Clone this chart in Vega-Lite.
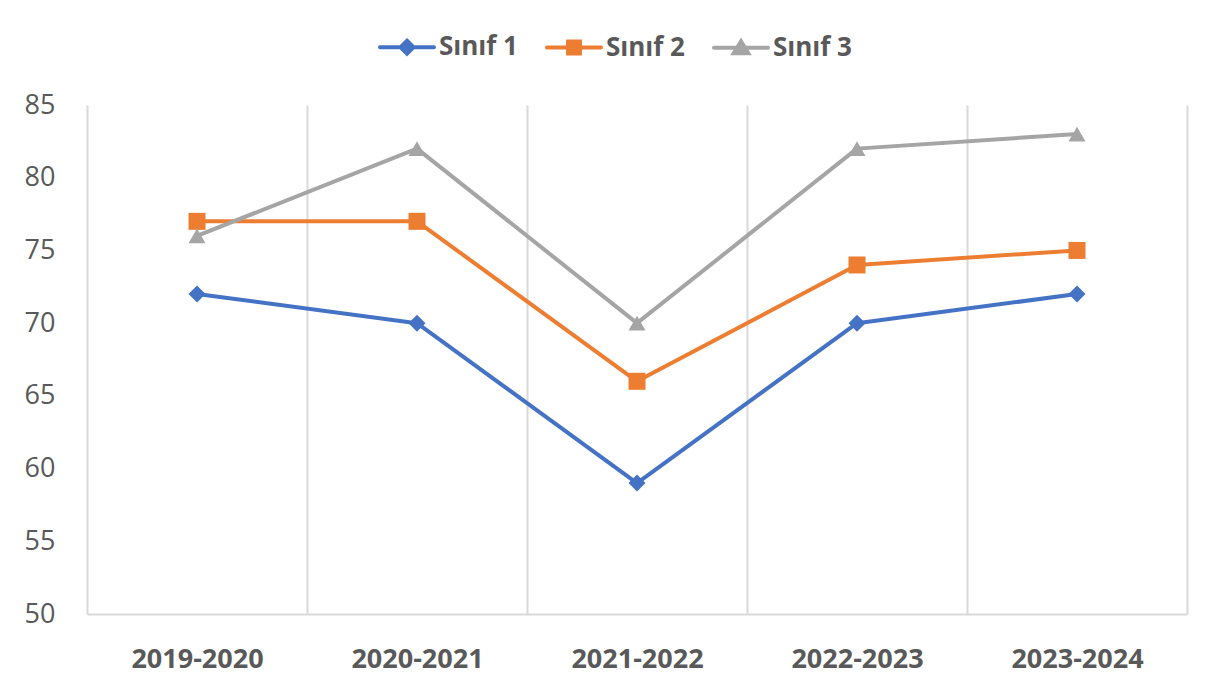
{
  "$schema": "https://vega.github.io/schema/vega-lite/v6.json",
  "width": 1100,
  "height": 509,
  "autosize": {"type": "none"},
  "padding": {"left": 87, "top": 105, "right": 26, "bottom": 78},
  "background": "white",
  "config": {
    "view": {"stroke": null},
    "font": "Open Sans"
  },
  "data": {
    "values": [
      {"year": "2019-2020", "series": "Sınıf 1", "value": 72},
      {"year": "2020-2021", "series": "Sınıf 1", "value": 70},
      {"year": "2021-2022", "series": "Sınıf 1", "value": 59},
      {"year": "2022-2023", "series": "Sınıf 1", "value": 70},
      {"year": "2023-2024", "series": "Sınıf 1", "value": 72},
      {"year": "2019-2020", "series": "Sınıf 2", "value": 77},
      {"year": "2020-2021", "series": "Sınıf 2", "value": 77},
      {"year": "2021-2022", "series": "Sınıf 2", "value": 66},
      {"year": "2022-2023", "series": "Sınıf 2", "value": 74},
      {"year": "2023-2024", "series": "Sınıf 2", "value": 75},
      {"year": "2019-2020", "series": "Sınıf 3", "value": 76},
      {"year": "2020-2021", "series": "Sınıf 3", "value": 82},
      {"year": "2021-2022", "series": "Sınıf 3", "value": 70},
      {"year": "2022-2023", "series": "Sınıf 3", "value": 82},
      {"year": "2023-2024", "series": "Sınıf 3", "value": 83}
    ]
  },
  "encoding": {
    "x": {
      "field": "year",
      "type": "nominal",
      "sort": null,
      "scale": {"type": "band", "paddingInner": 0, "paddingOuter": 0},
      "axis": {
        "title": null,
        "labelAngle": 0,
        "tickBand": "extent",
        "grid": true,
        "gridColor": "#D9D9D9",
        "gridWidth": 2,
        "ticks": false,
        "tickSize": 0,
        "domain": true,
        "domainColor": "#D9D9D9",
        "domainWidth": 2,
        "labelFontSize": 27,
        "labelFontWeight": "bold",
        "labelColor": "#595959",
        "labelBaseline": "middle",
        "labelPadding": 45
      }
    },
    "y": {
      "field": "value",
      "type": "quantitative",
      "scale": {"domain": [50, 85], "nice": false, "zero": false},
      "axis": {
        "title": null,
        "values": [50, 55, 60, 65, 70, 75, 80, 85],
        "grid": false,
        "domain": false,
        "ticks": false,
        "tickSize": 0,
        "labelFontSize": 27,
        "labelColor": "#595959",
        "labelPadding": 32
      }
    },
    "color": {
      "field": "series",
      "type": "nominal",
      "scale": {"domain": ["Sınıf 1", "Sınıf 2", "Sınıf 3"], "range": ["#4472C4", "#ED7D31", "#A5A5A5"]},
      "legend": {
        "title": null,
        "orient": "none",
        "direction": "horizontal",
        "legendX": 291,
        "legendY": -87,
        "padding": 0,
        "symbolSize": 2916,
        "labelFontSize": 26,
        "labelFontWeight": "bold",
        "labelColor": "#595959",
        "labelOffset": 3,
        "columnPadding": 21,
        "encode": {
          "symbols": {
            "update": {
              "shape": {"signal": "datum.value === 'Sınıf 1' ? 'M-1,0L1,0M0,-0.24L0.24,0L0,0.24L-0.24,0Z' : datum.value === 'Sınıf 2' ? 'M-1,0L1,0M-0.22,-0.22L0.22,-0.22L0.22,0.22L-0.22,0.22Z' : 'M-1,0L1,0M0,-0.24L0.27,0.2L-0.27,0.2Z'"},
              "fill": {"signal": "scale('color', datum.value)"},
              "stroke": {"signal": "scale('color', datum.value)"},
              "strokeWidth": {"value": 4},
              "strokeCap": {"value": "round"},
              "strokeJoin": {"value": "miter"},
              "opacity": {"value": 1},
              "fillOpacity": {"value": 1}
            }
          }
        }
      }
    }
  },
  "layer": [
    {
      "mark": {"type": "line", "strokeWidth": 4, "strokeCap": "round", "strokeJoin": "round"}
    },
    {
      "mark": {"type": "point", "filled": true, "opacity": 1, "size": 289},
      "encoding": {
        "shape": {
          "condition": [
            {"test": "datum.series === 'Sınıf 1'", "value": "diamond"},
            {"test": "datum.series === 'Sınıf 2'", "value": "square"}
          ],
          "value": "triangle-up"
        }
      }
    }
  ]
}
